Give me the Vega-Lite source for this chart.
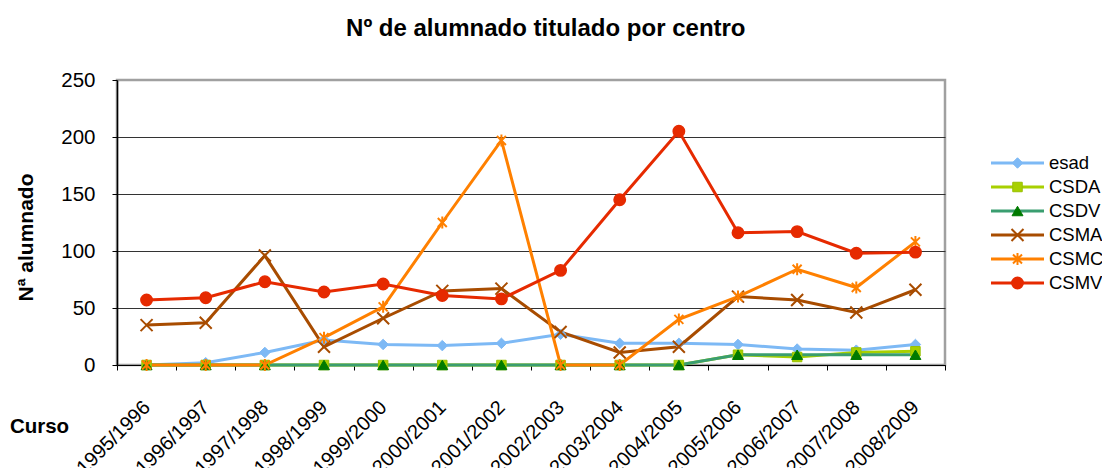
{
  "$schema": "https://vega.github.io/schema/vega-lite/v6.json",
  "padding": {"left": 8, "top": 16, "right": 0, "bottom": 0},
  "title": {"text": "Nº de alumnado titulado por centro", "fontSize": 24, "fontWeight": "bold", "anchor": "middle", "offset": 28, "dx": -10, "color": "#000"},
  "datasets": {
    "main": [
      {"curso": "1995/1996", "serie": "esad", "n": 0},
      {"curso": "1996/1997", "serie": "esad", "n": 2},
      {"curso": "1997/1998", "serie": "esad", "n": 11},
      {"curso": "1998/1999", "serie": "esad", "n": 22},
      {"curso": "1999/2000", "serie": "esad", "n": 18},
      {"curso": "2000/2001", "serie": "esad", "n": 17},
      {"curso": "2001/2002", "serie": "esad", "n": 19},
      {"curso": "2002/2003", "serie": "esad", "n": 27},
      {"curso": "2003/2004", "serie": "esad", "n": 19},
      {"curso": "2004/2005", "serie": "esad", "n": 19},
      {"curso": "2005/2006", "serie": "esad", "n": 18},
      {"curso": "2006/2007", "serie": "esad", "n": 14},
      {"curso": "2007/2008", "serie": "esad", "n": 13},
      {"curso": "2008/2009", "serie": "esad", "n": 18},
      {"curso": "1995/1996", "serie": "CSDA", "n": 0},
      {"curso": "1996/1997", "serie": "CSDA", "n": 0},
      {"curso": "1997/1998", "serie": "CSDA", "n": 0},
      {"curso": "1998/1999", "serie": "CSDA", "n": 0},
      {"curso": "1999/2000", "serie": "CSDA", "n": 0},
      {"curso": "2000/2001", "serie": "CSDA", "n": 0},
      {"curso": "2001/2002", "serie": "CSDA", "n": 0},
      {"curso": "2002/2003", "serie": "CSDA", "n": 0},
      {"curso": "2003/2004", "serie": "CSDA", "n": 0},
      {"curso": "2004/2005", "serie": "CSDA", "n": 0},
      {"curso": "2005/2006", "serie": "CSDA", "n": 9},
      {"curso": "2006/2007", "serie": "CSDA", "n": 7},
      {"curso": "2007/2008", "serie": "CSDA", "n": 11},
      {"curso": "2008/2009", "serie": "CSDA", "n": 12},
      {"curso": "1995/1996", "serie": "CSDV", "n": 0},
      {"curso": "1996/1997", "serie": "CSDV", "n": 0},
      {"curso": "1997/1998", "serie": "CSDV", "n": 0},
      {"curso": "1998/1999", "serie": "CSDV", "n": 0},
      {"curso": "1999/2000", "serie": "CSDV", "n": 0},
      {"curso": "2000/2001", "serie": "CSDV", "n": 0},
      {"curso": "2001/2002", "serie": "CSDV", "n": 0},
      {"curso": "2002/2003", "serie": "CSDV", "n": 0},
      {"curso": "2003/2004", "serie": "CSDV", "n": 0},
      {"curso": "2004/2005", "serie": "CSDV", "n": 0},
      {"curso": "2005/2006", "serie": "CSDV", "n": 9},
      {"curso": "2006/2007", "serie": "CSDV", "n": 9},
      {"curso": "2007/2008", "serie": "CSDV", "n": 9},
      {"curso": "2008/2009", "serie": "CSDV", "n": 9},
      {"curso": "1995/1996", "serie": "CSMA", "n": 35},
      {"curso": "1996/1997", "serie": "CSMA", "n": 37},
      {"curso": "1997/1998", "serie": "CSMA", "n": 96},
      {"curso": "1998/1999", "serie": "CSMA", "n": 16},
      {"curso": "1999/2000", "serie": "CSMA", "n": 41},
      {"curso": "2000/2001", "serie": "CSMA", "n": 65},
      {"curso": "2001/2002", "serie": "CSMA", "n": 67},
      {"curso": "2002/2003", "serie": "CSMA", "n": 29},
      {"curso": "2003/2004", "serie": "CSMA", "n": 11},
      {"curso": "2004/2005", "serie": "CSMA", "n": 16},
      {"curso": "2005/2006", "serie": "CSMA", "n": 60},
      {"curso": "2006/2007", "serie": "CSMA", "n": 57},
      {"curso": "2007/2008", "serie": "CSMA", "n": 46},
      {"curso": "2008/2009", "serie": "CSMA", "n": 66},
      {"curso": "1995/1996", "serie": "CSMC", "n": 0},
      {"curso": "1996/1997", "serie": "CSMC", "n": 0},
      {"curso": "1997/1998", "serie": "CSMC", "n": 0},
      {"curso": "1998/1999", "serie": "CSMC", "n": 24},
      {"curso": "1999/2000", "serie": "CSMC", "n": 51},
      {"curso": "2000/2001", "serie": "CSMC", "n": 125},
      {"curso": "2001/2002", "serie": "CSMC", "n": 197},
      {"curso": "2002/2003", "serie": "CSMC", "n": 0},
      {"curso": "2003/2004", "serie": "CSMC", "n": 0},
      {"curso": "2004/2005", "serie": "CSMC", "n": 40},
      {"curso": "2005/2006", "serie": "CSMC", "n": 60},
      {"curso": "2006/2007", "serie": "CSMC", "n": 84},
      {"curso": "2007/2008", "serie": "CSMC", "n": 68},
      {"curso": "2008/2009", "serie": "CSMC", "n": 108},
      {"curso": "1995/1996", "serie": "CSMV", "n": 57},
      {"curso": "1996/1997", "serie": "CSMV", "n": 59},
      {"curso": "1997/1998", "serie": "CSMV", "n": 73},
      {"curso": "1998/1999", "serie": "CSMV", "n": 64},
      {"curso": "1999/2000", "serie": "CSMV", "n": 71},
      {"curso": "2000/2001", "serie": "CSMV", "n": 61},
      {"curso": "2001/2002", "serie": "CSMV", "n": 58},
      {"curso": "2002/2003", "serie": "CSMV", "n": 83},
      {"curso": "2003/2004", "serie": "CSMV", "n": 145},
      {"curso": "2004/2005", "serie": "CSMV", "n": 205},
      {"curso": "2005/2006", "serie": "CSMV", "n": 116},
      {"curso": "2006/2007", "serie": "CSMV", "n": 117},
      {"curso": "2007/2008", "serie": "CSMV", "n": 98},
      {"curso": "2008/2009", "serie": "CSMV", "n": 99}
    ],
    "legend": [
      {"serie": "esad"},
      {"serie": "CSDA"},
      {"serie": "CSDV"},
      {"serie": "CSMA"},
      {"serie": "CSMC"},
      {"serie": "CSMV"}
    ]
  },
  "spacing": 42,
  "hconcat": [
    {
      "width": 828,
      "height": 285,
      "view": {"stroke": "#A0A0A0", "strokeWidth": 2.5},
      "data": {"name": "main"},
      "layer": [
        {
          "mark": {"type": "line", "strokeWidth": 3},
          "encoding": {
            "x": {
              "field": "curso", "type": "ordinal", "sort": null,
              "scale": {"type": "band", "paddingInner": 0, "paddingOuter": 0},
              "axis": {
                "title": "Curso", "tickBand": "extent", "labelAngle": -45, "labelAlign": "right", "labelBaseline": "middle",
                "labelPadding": 34, "labelFontSize": 20, "labelOverlap": false, "tickSize": 5, "tickColor": "#000", "domainColor": "#000",
                "grid": false, "titleX": -78, "titleY": 61, "titleAlign": "center", "titleBaseline": "middle",
                "titleFontSize": 20.5, "titleFontWeight": "bold", "titleAngle": 0
              }
            },
            "y": {
              "field": "n", "type": "quantitative",
              "scale": {"domain": [0, 250], "nice": false},
              "axis": {
                "title": "Nª alumnado", "values": [0, 50, 100, 150, 200, 250], "tickSize": 5, "labelPadding": 17,
                "labelFontSize": 20.5, "titleFontSize": 21, "titleFontWeight": "bold", "titlePadding": 24, "titleY": 157,
                "gridColor": "#333", "gridWidth": 1,
                "gridOpacity": {"condition": {"test": "datum.value === 250", "value": 0}, "value": 1},
                "domainColor": "#000", "domainWidth": 1.5, "tickColor": "#000"
              }
            },
            "color": {
              "field": "serie", "type": "nominal",
              "scale": {"domain": ["esad", "CSDA", "CSDV", "CSMA", "CSMC", "CSMV"], "range": ["#7DB9F5", "#A8D000", "#3A9E70", "#A84C00", "#FF8000", "#E62A00"]},
              "legend": null
            }
          }
        },
        {
          "mark": {"type": "point", "filled": true, "opacity": 1},
          "encoding": {
            "x": {"field": "curso", "type": "ordinal", "sort": null},
            "y": {"field": "n", "type": "quantitative"},
            "shape": {
              "field": "serie", "type": "nominal",
              "scale": {"domain": ["esad", "CSDA", "CSDV", "CSMA", "CSMC", "CSMV"], "range": ["diamond", "square", "triangle-up", "M-1,-1L1,1M-1,1L1,-1", "M-0.75,-0.75L0.75,0.75M-0.75,0.75L0.75,-0.75M0,-1L0,1", "circle"]},
              "legend": null
            },
            "fill": {
              "field": "serie", "type": "nominal",
              "scale": {"domain": ["esad", "CSDA", "CSDV", "CSMA", "CSMC", "CSMV"], "range": ["#7DB9F5", "#A8D000", "#007A00", "transparent", "transparent", "#E62A00"]},
              "legend": null
            },
            "stroke": {
              "field": "serie", "type": "nominal",
              "scale": {"domain": ["esad", "CSDA", "CSDV", "CSMA", "CSMC", "CSMV"], "range": ["#7DB9F5", "#98C000", "#007A00", "#A84C00", "#FF8000", "#E62A00"]},
              "legend": null
            },
            "size": {
              "field": "serie", "type": "nominal",
              "scale": {"type": "ordinal", "domain": ["esad", "CSDA", "CSDV", "CSMA", "CSMC", "CSMV"], "range": [110, 90, 120, 144, 144, 130]},
              "legend": null
            },
            "strokeWidth": {
              "field": "serie", "type": "nominal",
              "scale": {"type": "ordinal", "domain": ["esad", "CSDA", "CSDV", "CSMA", "CSMC", "CSMV"], "range": [1, 1, 1, 2, 2, 1.5]},
              "legend": null
            }
          }
        }
      ]
    },
    {
      "width": 110,
      "height": 285,
      "view": {"stroke": null},
      "data": {"name": "legend"},
      "encoding": {
        "y": {"field": "serie", "type": "nominal", "sort": null, "scale": {"type": "point", "padding": 0, "range": [83, 203]}, "axis": null}
      },
      "layer": [
        {
          "mark": {"type": "rule", "strokeWidth": 3},
          "encoding": {
            "x": {"datum": 0, "type": "quantitative", "scale": {"domain": [0, 110], "nice": false, "zero": false}, "axis": null},
            "x2": {"datum": 53},
            "color": {
              "field": "serie", "type": "nominal",
              "scale": {"domain": ["esad", "CSDA", "CSDV", "CSMA", "CSMC", "CSMV"], "range": ["#7DB9F5", "#A8D000", "#3A9E70", "#A84C00", "#FF8000", "#E62A00"]},
              "legend": null
            }
          }
        },
        {
          "mark": {"type": "point", "filled": true, "opacity": 1},
          "encoding": {
            "x": {"datum": 26.5, "type": "quantitative"},
            "shape": {
              "field": "serie", "type": "nominal",
              "scale": {"domain": ["esad", "CSDA", "CSDV", "CSMA", "CSMC", "CSMV"], "range": ["diamond", "square", "triangle-up", "M-1,-1L1,1M-1,1L1,-1", "M-0.75,-0.75L0.75,0.75M-0.75,0.75L0.75,-0.75M0,-1L0,1", "circle"]},
              "legend": null
            },
            "fill": {
              "field": "serie", "type": "nominal",
              "scale": {"domain": ["esad", "CSDA", "CSDV", "CSMA", "CSMC", "CSMV"], "range": ["#7DB9F5", "#A8D000", "#007A00", "transparent", "transparent", "#E62A00"]},
              "legend": null
            },
            "stroke": {
              "field": "serie", "type": "nominal",
              "scale": {"domain": ["esad", "CSDA", "CSDV", "CSMA", "CSMC", "CSMV"], "range": ["#7DB9F5", "#98C000", "#007A00", "#A84C00", "#FF8000", "#E62A00"]},
              "legend": null
            },
            "size": {
              "field": "serie", "type": "nominal",
              "scale": {"type": "ordinal", "domain": ["esad", "CSDA", "CSDV", "CSMA", "CSMC", "CSMV"], "range": [110, 90, 120, 144, 144, 130]},
              "legend": null
            },
            "strokeWidth": {
              "field": "serie", "type": "nominal",
              "scale": {"type": "ordinal", "domain": ["esad", "CSDA", "CSDV", "CSMA", "CSMC", "CSMV"], "range": [1, 1, 1, 2, 2, 1.5]},
              "legend": null
            }
          }
        },
        {
          "mark": {"type": "text", "align": "left", "baseline": "middle", "fontSize": 18.5, "color": "#000"},
          "encoding": {
            "x": {"datum": 58, "type": "quantitative"},
            "text": {"field": "serie", "type": "nominal"}
          }
        }
      ]
    }
  ],
  "resolve": {"scale": {"x": "independent", "y": "independent", "color": "independent", "fill": "independent", "stroke": "independent", "shape": "independent", "size": "independent", "strokeWidth": "independent"}},
  "config": {
    "font": "Liberation Sans",
    "axis": {"labelColor": "#000", "titleColor": "#000"},
    "text": {"font": "Liberation Sans"}
  }
}
